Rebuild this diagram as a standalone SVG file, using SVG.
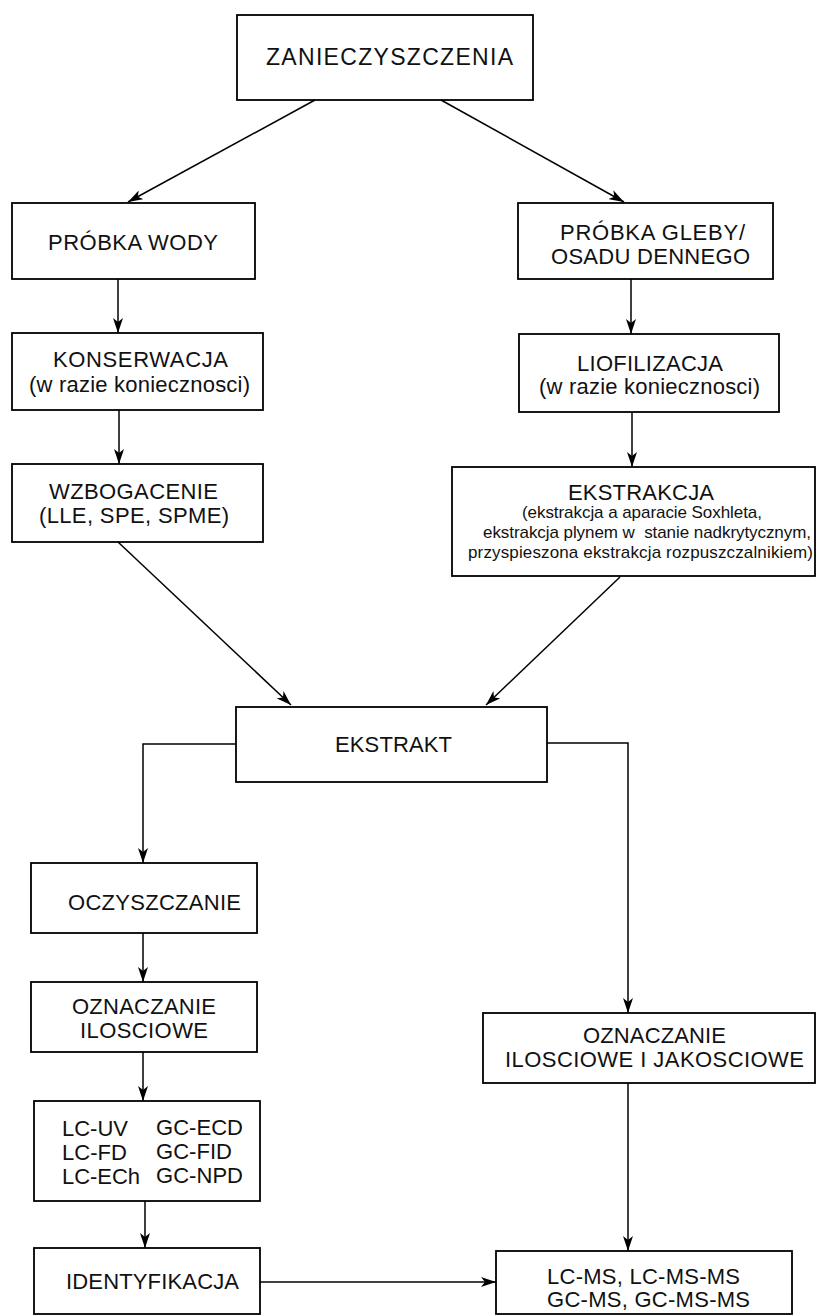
<svg xmlns="http://www.w3.org/2000/svg" width="819" height="1316" viewBox="0 0 819 1316">
<style>
rect{fill:#fff;stroke:#000;stroke-width:1.8}
text{font-family:"Liberation Sans",Arial,sans-serif;fill:#111;font-size:22px}
.big{font-size:23px}
.sm{font-size:17px}
.c path{fill:none;stroke:#000;stroke-width:1.5}
</style>
<defs>
<marker id="a" viewBox="0 0 15 10" refX="15" refY="5" markerWidth="15" markerHeight="10" markerUnits="userSpaceOnUse" orient="auto">
<path d="M0,0 L15,5 L0,10 L4,5 Z" fill="#000"/>
</marker>
</defs>
<g id="n-zan"><rect x="237" y="15" width="296" height="85"/><text class="big" x="266" y="65" textLength="247" lengthAdjust="spacing">ZANIECZYSZCZENIA</text></g>
<g id="n-woda"><rect x="12" y="203" width="243" height="76"/><text x="48" y="250" textLength="170" lengthAdjust="spacing">PRÓBKA WODY</text></g>
<g id="n-kons"><rect x="12" y="333" width="251" height="77"/><text x="53" y="367" textLength="175" lengthAdjust="spacing">KONSERWACJA</text><text x="29" y="392" textLength="221" lengthAdjust="spacing">(w razie koniecznosci)</text></g>
<g id="n-wzb"><rect x="12" y="464" width="251" height="78"/><text x="49" y="499" textLength="169" lengthAdjust="spacing">WZBOGACENIE</text><text x="39" y="523" textLength="190" lengthAdjust="spacing">(LLE, SPE, SPME)</text></g>
<g id="n-gleba"><rect x="518" y="203" width="255" height="76"/><text x="560" y="240" textLength="185" lengthAdjust="spacing">PRÓBKA GLEBY/</text><text x="551" y="264" textLength="199" lengthAdjust="spacing">OSADU DENNEGO</text></g>
<g id="n-liof"><rect x="519" y="334" width="260" height="78"/><text x="577" y="371" textLength="146" lengthAdjust="spacing">LIOFILIZACJA</text><text x="539" y="394" textLength="221" lengthAdjust="spacing">(w razie koniecznosci)</text></g>
<g id="n-ekstrakcja"><rect x="452" y="467" width="363" height="109"/><text x="568" y="500" textLength="146" lengthAdjust="spacing">EKSTRAKCJA</text><text class="sm" x="522" y="518" textLength="240" lengthAdjust="spacing">(ekstrakcja a aparacie Soxhleta,</text><text class="sm" x="483" y="538" textLength="328" lengthAdjust="spacing" xml:space="preserve">ekstrakcja plynem w  stanie nadkrytycznym,</text><text class="sm" x="468" y="558" textLength="345" lengthAdjust="spacing">przyspieszona ekstrakcja rozpuszczalnikiem)</text></g>
<g id="n-ekstrakt"><rect x="236" y="707" width="311" height="75"/><text x="335" y="752" textLength="117" lengthAdjust="spacing">EKSTRAKT</text></g>
<g id="n-ocz"><rect x="31" y="863" width="226" height="70"/><text x="68" y="910" textLength="173" lengthAdjust="spacing">OCZYSZCZANIE</text></g>
<g id="n-ozn"><rect x="31" y="982" width="226" height="70"/><text x="72" y="1014" textLength="144" lengthAdjust="spacing">OZNACZANIE</text><text x="80" y="1038" textLength="128" lengthAdjust="spacing">ILOSCIOWE</text></g>
<g id="n-lc"><rect x="34" y="1101" width="226" height="100"/>
<text x="62" y="1136" textLength="66" lengthAdjust="spacing">LC-UV</text>
<text x="62" y="1160" textLength="65" lengthAdjust="spacing">LC-FD</text>
<text x="62" y="1184" textLength="78" lengthAdjust="spacing">LC-ECh</text>
<text x="156" y="1135" textLength="87" lengthAdjust="spacing">GC-ECD</text>
<text x="156" y="1159" textLength="76" lengthAdjust="spacing">GC-FID</text>
<text x="156" y="1183" textLength="87" lengthAdjust="spacing">GC-NPD</text></g>
<g id="n-ident"><rect x="34" y="1248" width="226" height="66"/><text x="66" y="1289" textLength="173" lengthAdjust="spacing">IDENTYFIKACJA</text></g>
<g id="n-ozn2"><rect x="483" y="1013" width="332" height="70"/><text x="583" y="1043" textLength="143" lengthAdjust="spacing">OZNACZANIE</text><text x="505" y="1067" textLength="299" lengthAdjust="spacing">ILOSCIOWE I JAKOSCIOWE</text></g>
<g id="n-lcms"><rect x="496" y="1251" width="296" height="63"/><text x="547" y="1284" textLength="193" lengthAdjust="spacing">LC-MS, LC-MS-MS</text><text x="547" y="1307" textLength="203" lengthAdjust="spacing">GC-MS, GC-MS-MS</text></g>
<g id="connectors" class="c">
<path d="M315,100 L128,202" marker-end="url(#a)"/>
<path d="M441,100 L624,202" marker-end="url(#a)"/>
<path d="M118,279 L118,333" marker-end="url(#a)"/>
<path d="M119,410 L119,464" marker-end="url(#a)"/>
<path d="M118,542 L291,705" marker-end="url(#a)"/>
<path d="M631,279 L631,334" marker-end="url(#a)"/>
<path d="M632,412 L632,467" marker-end="url(#a)"/>
<path d="M620,577 L486,705" marker-end="url(#a)"/>
<path d="M236,744 L143,744 L143,863" marker-end="url(#a)"/>
<path d="M143,933 L143,982" marker-end="url(#a)"/>
<path d="M143,1052 L143,1101" marker-end="url(#a)"/>
<path d="M145,1201 L145,1248" marker-end="url(#a)"/>
<path d="M260,1282 L496,1282" marker-end="url(#a)"/>
<path d="M547,743 L628,743 L628,1013" marker-end="url(#a)"/>
<path d="M628,1083 L628,1251" marker-end="url(#a)"/>
</g>
</svg>
